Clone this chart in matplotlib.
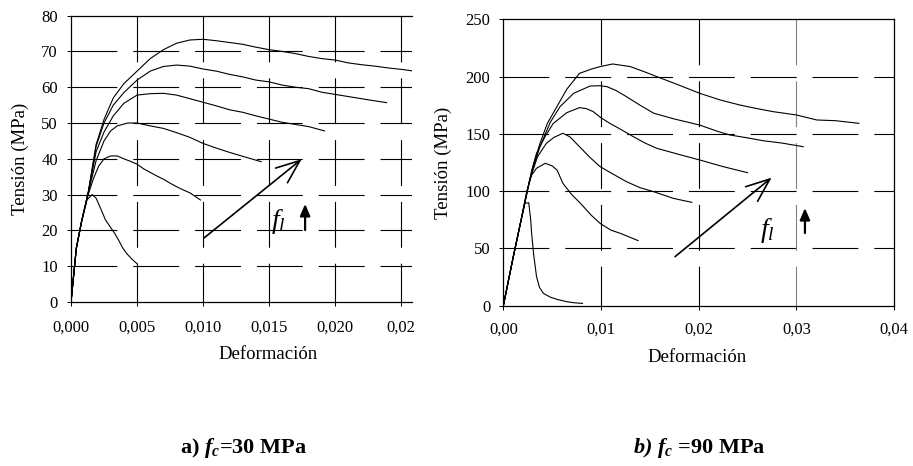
import matplotlib
matplotlib.use("Agg")
import matplotlib.pyplot as plt

plt.rcParams['font.family'] = ['Liberation Serif', 'DejaVu Serif']
plt.rcParams['mathtext.fontset'] = 'custom'
plt.rcParams['mathtext.rm'] = 'Liberation Serif'
plt.rcParams['mathtext.it'] = 'Liberation Serif:italic'
plt.rcParams['mathtext.bf'] = 'Liberation Serif:bold'
plt.rcParams['mathtext.bfit'] = 'Liberation Serif:italic:bold'
plt.rcParams['lines.scale_dashes'] = False

# a) fc = 30 MPa  (deformación, tensión MPa)
a1_x = [0, 0.0004, 0.0008, 0.0013, 0.0019, 0.0025, 0.0032, 0.004, 0.005, 0.006, 0.007, 0.008, 0.009, 0.010,
        0.011, 0.012, 0.013, 0.014, 0.015, 0.016, 0.017, 0.018, 0.019, 0.020, 0.021, 0.022, 0.023, 0.024, 0.025, 0.0258]
a1_y = [0, 15, 22.5, 30.5, 44, 51, 57, 61, 64.5, 68, 70.5, 72.3, 73.2, 73.4,
        73, 72.5, 72, 71.2, 70.5, 70, 69.4, 68.6, 68, 67.6, 66.8, 66.3, 65.9, 65.4, 65, 64.6]
a2_x = [0, 0.0004, 0.0008, 0.0013, 0.0019, 0.0025, 0.0032, 0.004, 0.005, 0.006, 0.007, 0.008, 0.009, 0.010,
        0.011, 0.012, 0.013, 0.014, 0.015, 0.016, 0.017, 0.018, 0.019, 0.020, 0.021, 0.022, 0.023, 0.0239]
a2_y = [0, 15, 22.5, 30.5, 43.5, 50, 55, 58.5, 62, 64.5, 65.8, 66.2, 65.9, 65.1,
        64.5, 63.6, 62.9, 62, 61.5, 60.6, 60, 59.6, 58.6, 58, 57.4, 56.8, 56.2, 55.7]
a3_x = [0, 0.0004, 0.0008, 0.0013, 0.0019, 0.0025, 0.0032, 0.004, 0.005, 0.006, 0.007, 0.008, 0.009, 0.010,
        0.011, 0.012, 0.013, 0.014, 0.015, 0.016, 0.017, 0.018, 0.0192]
a3_y = [0, 15, 22.5, 30.5, 42, 47.5, 52, 55.5, 57.8, 58.2, 58.3, 57.8, 56.8, 55.8,
        54.8, 53.7, 53, 52, 51.1, 50.2, 49.6, 49, 47.8]
a4_x = [0, 0.0004, 0.0008, 0.0013, 0.0019, 0.0025, 0.003, 0.0035, 0.0043, 0.005, 0.006, 0.007, 0.008, 0.009,
        0.010, 0.011, 0.012, 0.013, 0.0144]
a4_y = [0, 15, 22.5, 30.5, 39.5, 45, 47.8, 49.2, 50, 50, 49.2, 48.5, 47.3, 46,
        44.3, 43, 41.8, 40.7, 39.2]
a5_x = [0, 0.0004, 0.0008, 0.0013, 0.0017, 0.0021, 0.0025, 0.003, 0.0035, 0.004, 0.0045, 0.005, 0.0055,
        0.006, 0.0065, 0.007, 0.0075, 0.008, 0.0085, 0.009, 0.0098]
a5_y = [0, 15, 22.5, 30, 34.5, 38, 40, 40.8, 40.8, 40, 39.3, 38.5, 37.2,
        36.2, 35.2, 34.3, 33.2, 32.2, 31.3, 30.5, 28.5]
a6_x = [0, 0.0004, 0.0008, 0.0012, 0.0016, 0.0019, 0.0022, 0.0026, 0.003, 0.0033, 0.0036, 0.0039, 0.0042,
        0.0046, 0.005]
a6_y = [0, 15, 22.5, 28.5, 30, 29, 26.5, 23, 20.8, 19.2, 17.3, 15.2, 13.6, 12, 10.7]

# b) fc = 90 MPa
b1_x = [0, 0.001, 0.0018, 0.0025, 0.003, 0.00375, 0.0045, 0.0055, 0.0065, 0.0078, 0.009, 0.0099, 0.0112,
        0.013, 0.0145, 0.0157, 0.018, 0.0201, 0.0222, 0.0242, 0.026, 0.0276, 0.03, 0.0321, 0.034, 0.0364]
b1_y = [0, 42, 74, 102, 120, 141.7, 159, 174, 189, 202.8, 206.5, 208.7, 211,
        208.7, 204, 200, 192.5, 185.4, 179.6, 175.2, 172, 169.4, 166.5, 162.1, 161.5, 159.2]
b2_x = [0, 0.001, 0.0018, 0.0025, 0.003, 0.00375, 0.0048, 0.0058, 0.0072, 0.0089, 0.0099, 0.0106, 0.0115,
        0.0126, 0.014, 0.0154, 0.0175, 0.0201, 0.022, 0.0232, 0.025, 0.0266, 0.0285, 0.0307]
b2_y = [0, 42, 74, 102, 119, 138.8, 160, 173.7, 185.4, 191.8, 192, 191.2, 188,
        182.5, 175, 168, 163, 157.7, 152, 149, 146.5, 144, 142, 138.8]
b3_x = [0, 0.001, 0.0018, 0.0025, 0.0029, 0.0034, 0.0043, 0.0051, 0.0065, 0.0078, 0.0085, 0.0092, 0.01,
        0.0109, 0.012, 0.0133, 0.0145, 0.0157, 0.018, 0.0201, 0.0225, 0.025]
b3_y = [0, 42, 74, 102, 118, 133, 148, 159, 168.5, 172.9, 172, 169.4, 164,
        159.2, 154, 147.6, 142, 137.4, 132, 127.2, 121.4, 116.1]
b4_x = [0, 0.001, 0.0018, 0.0025, 0.0027, 0.0035, 0.0044, 0.0052, 0.0061, 0.0068, 0.0078, 0.0088, 0.0099,
        0.011, 0.0126, 0.014, 0.0154, 0.0174, 0.0193]
b4_y = [0, 42, 74, 102, 110, 130, 141.7, 147, 150.5, 147.5, 138.8, 130, 121.4,
        116, 108.3, 103, 99.5, 93.7, 90.2]
b5_x = [0, 0.001, 0.0018, 0.0024, 0.0029, 0.0034, 0.0043, 0.005, 0.0055, 0.0061, 0.007, 0.0079, 0.009,
        0.0099, 0.011, 0.012, 0.0138]
b5_y = [0, 42, 74, 100, 114, 120, 124.3, 122, 118.4, 106.8, 97, 89.3, 79,
        71.9, 66, 63.1, 56.8]
b6_x = [0, 0.001, 0.0018, 0.0022, 0.0026, 0.0028, 0.0029, 0.0031, 0.0034, 0.0037, 0.0041, 0.0048, 0.0055,
        0.0065, 0.0072, 0.0081]
b6_y = [0, 42, 74, 89.3, 89.9, 75, 63, 45, 25.3, 16, 10.8, 7.5, 5.5, 3.5, 2.6, 2.0]

a_curves = [(a1_x, a1_y), (a2_x, a2_y), (a3_x, a3_y), (a4_x, a4_y), (a5_x, a5_y), (a6_x, a6_y)]
b_curves = [(b1_x, b1_y), (b2_x, b2_y), (b3_x, b3_y), (b4_x, b4_y), (b5_x, b5_y), (b6_x, b6_y)]

a_xticks = [0, 0.005, 0.010, 0.015, 0.020, 0.025]
a_xlabels = ["0,000", "0,005", "0,010", "0,015", "0,020", "0,02"]
a_yticks = [0, 10, 20, 30, 40, 50, 60, 70, 80]
b_xticks = [0, 0.01, 0.02, 0.03, 0.04]
b_xlabels = ["0,00", "0,01", "0,02", "0,03", "0,04"]
b_yticks = [0, 50, 100, 150, 200, 250]

GRID_DASH = (33, 11.5)


def draw_panel(ax, curves, xlim, ylim, xticks, xlabels, yticks, xlab_pos, ylab_pos, xpad):
    ax.set_xlim(*xlim)
    ax.set_ylim(*ylim)
    # dashed grid, horizontal drawn left->right, vertical top->bottom
    for y in yticks[1:]:
        if y < ylim[1]:
            ax.plot([xlim[0], xlim[1]], [y, y], color='black', lw=0.8, dashes=GRID_DASH, zorder=1)
    for x in xticks[1:]:
        if x < xlim[1] - 1e-9:
            col = '#808080' if x == 0.03 else 'black'
            ax.plot([x, x], [ylim[1], ylim[0]], color=col, lw=0.8, dashes=GRID_DASH, zorder=1)
    for cx, cy in curves:
        ax.plot(cx, cy, color='black', lw=0.8, zorder=3)
    ax.set_xticks(xticks)
    ax.set_xticklabels(xlabels)
    ax.set_yticks(yticks)
    ax.tick_params(direction='out', length=3, width=0.7, labelsize=12)
    ax.tick_params(axis='x', pad=xpad)
    ax.tick_params(axis='y', pad=6.5)
    for s in ax.spines.values():
        s.set_linewidth(0.9)
    ax.set_xlabel("Deformación", fontsize=13.5)
    ax.set_ylabel("Tensión (MPa)", fontsize=13.5)
    ax.xaxis.set_label_coords(*xlab_pos)
    ax.yaxis.set_label_coords(*ylab_pos)


fig = plt.figure(figsize=(9.13, 4.66), dpi=100)

ax1 = fig.add_axes([0.0778, 0.352, 0.3735, 0.6144])
draw_panel(ax1, a_curves, (0, 0.02583), (0, 80), a_xticks, a_xlabels, a_yticks,
           (0.578, -0.154), (-0.123, 0.5), 9.5)
ax1.spines['right'].set_visible(False)
ax1.annotate("", xy=(0.01747, 39.9), xytext=(0.01008, 17.9),
             arrowprops=dict(arrowstyle="->,head_length=1.7,head_width=0.68", lw=1.2, color='black',
                             mutation_scale=10, shrinkA=0, shrinkB=0), zorder=4)
ax1.annotate("", xy=(0.01773, 27.4), xytext=(0.01773, 20.1),
             arrowprops=dict(arrowstyle="-|>,head_length=0.7,head_width=0.3", lw=1.6, color='black',
                             mutation_scale=10, shrinkA=0, shrinkB=0), zorder=4)
ax1.text(0.01568, 22.5, r"$f_l$", fontsize=20, ha='center', va='center', zorder=4)

ax2 = fig.add_axes([0.5513, 0.344, 0.4279, 0.6146])
draw_panel(ax2, b_curves, (0, 0.04), (0, 250), b_xticks, b_xlabels, b_yticks,
           (0.496, -0.151), (-0.131, 0.5), 8.5)
ax2.annotate("", xy=(0.02747, 111.8), xytext=(0.01758, 42.8),
             arrowprops=dict(arrowstyle="->,head_length=1.7,head_width=0.68", lw=1.2, color='black',
                             mutation_scale=10, shrinkA=0, shrinkB=0), zorder=4)
ax2.annotate("", xy=(0.03088, 85.3), xytext=(0.03088, 63.4),
             arrowprops=dict(arrowstyle="-|>,head_length=0.7,head_width=0.3", lw=1.6, color='black',
                             mutation_scale=10, shrinkA=0, shrinkB=0), zorder=4)
ax2.text(0.0270, 65.5, r"$f_l$", fontsize=20, ha='center', va='center', zorder=4)

fig.text(244 / 913, 1 - 448 / 466, r"a) $\mathbfit{f}_{\mathbfit{c}}$=30 MPa",
         fontsize=16, fontweight='bold', ha='center', va='center')
fig.text(699 / 913, 1 - 448 / 466, r"$\mathbfit{b)}$ $\mathbfit{f}_{\mathbfit{c}}$ =90 MPa",
         fontsize=16, fontweight='bold', ha='center', va='center')

fig.savefig("out.png", dpi=100)
plt.close(fig)
